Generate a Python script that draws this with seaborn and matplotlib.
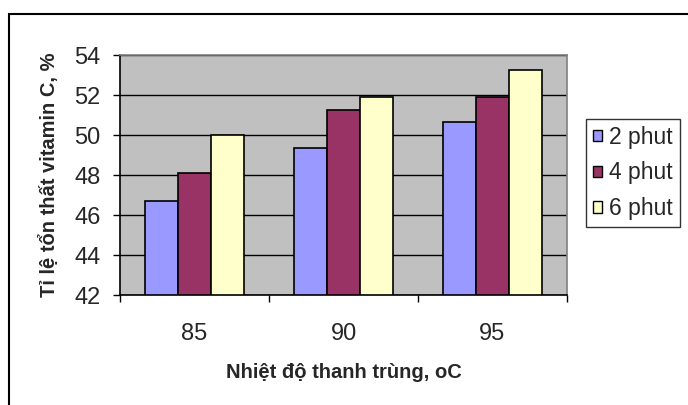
import matplotlib
matplotlib.use("Agg")
import matplotlib.pyplot as plt
import seaborn as sns
import pandas as pd
from matplotlib.ticker import FixedLocator

categories = ["85", "90", "95"]
series_names = ["2 phut", "4 phut", "6 phut"]
v_2phut = [46.7, 49.35, 50.65]
v_4phut = [48.1, 51.25, 51.9]
v_6phut = [50.0, 51.9, 53.25]
y_ticks = [42, 44, 46, 48, 50, 52, 54]
colors = ["#9999FF", "#993366", "#FFFFCC"]

rows = []
for name, vals in zip(series_names, [v_2phut, v_4phut, v_6phut]):
    for c, v in zip(categories, vals):
        rows.append({"temp": c, "series": name, "value": v})
df = pd.DataFrame(rows)

sns.set_style("white")
plt.rcParams["font.family"] = ["Liberation Sans", "DejaVu Sans"]

fig = plt.figure(figsize=(6.88, 4.05), dpi=100)
W, H = 688, 405
ax = fig.add_axes([120 / W, (H - 295) / H, 447 / W, 240 / H])

sns.barplot(data=df, x="temp", y="value", hue="series", order=categories,
            hue_order=series_names, palette=colors, width=0.67, gap=0,
            edgecolor="black", linewidth=1.2, saturation=1, ax=ax,
            legend=False, errorbar=None)

ax.set_facecolor("#C0C0C0")
ax.set_ylim(42, 54)
ax.set_xlim(-0.5, 2.5)
ax.set_yticks(y_ticks)
ax.set_yticklabels([str(t) for t in y_ticks])
ax.set_axisbelow(True)
ax.yaxis.grid(True, color="black", linewidth=1.0)
ax.xaxis.grid(False)

for s in ["left", "bottom"]:
    ax.spines[s].set_color("black")
    ax.spines[s].set_linewidth(1.2)
for s in ["top", "right"]:
    ax.spines[s].set_color("#808080")
    ax.spines[s].set_linewidth(1.2)

ax.tick_params(axis="y", which="major", direction="out", length=5, width=1,
               color="black", labelsize=17, pad=9, left=True)
ax.tick_params(axis="x", which="major", length=0, labelsize=17, pad=20)
ax.xaxis.set_minor_locator(FixedLocator([-0.5, 0.5, 1.5, 2.5]))
ax.tick_params(axis="x", which="minor", direction="out", length=5, width=1,
               color="black", bottom=True)

ax.set_xlabel("Nhiệt độ thanh trùng, oC", fontsize=14.5, fontweight="bold", labelpad=13)
ax.set_ylabel("Tỉ lệ tổn thất vitamin C, %", fontsize=14.5, fontweight="bold", labelpad=11)

handles = [plt.Rectangle((0, 0), 1, 1, facecolor=c, edgecolor="black", linewidth=1)
           for c in colors]
leg = fig.legend(handles, series_names, loc="upper left",
                 bbox_to_anchor=(586 / W, 1 - 119 / H), fontsize=16.5,
                 frameon=True, fancybox=False, edgecolor="black",
                 handlelength=0.4, handleheight=0.4, handletextpad=0.3,
                 labelspacing=0.55, borderpad=0.3, borderaxespad=0)
leg.get_frame().set_linewidth(1.0)

border = plt.Rectangle((9 / W, -0.1), 1.2, 1.1 - 14 / H, transform=fig.transFigure,
                       fill=False, edgecolor="black", linewidth=1.5)
fig.add_artist(border)

fig.savefig("out.png", dpi=100, facecolor="white")
